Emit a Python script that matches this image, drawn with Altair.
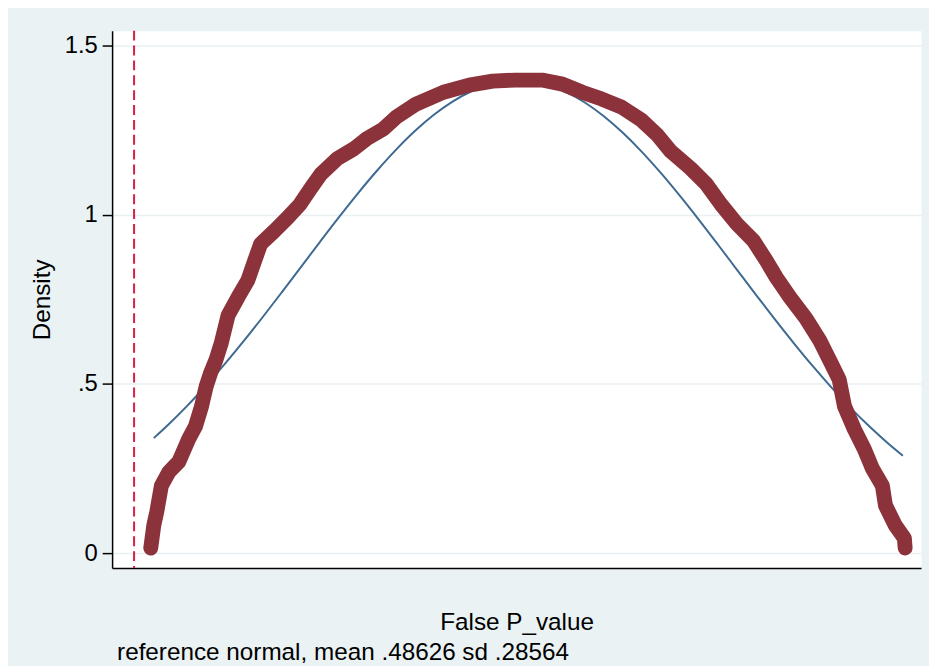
import altair as alt
import pandas as pd

# Kernel density of False P_value
kd_x = [0.002, 0.006, 0.010, 0.016, 0.026, 0.039, 0.052, 0.061, 0.069, 0.075,
        0.081, 0.088, 0.095, 0.104, 0.117, 0.130, 0.139, 0.147, 0.165, 0.182,
        0.199, 0.213, 0.226, 0.248, 0.270, 0.287, 0.309, 0.326, 0.352, 0.388,
        0.422, 0.453, 0.483, 0.518, 0.545, 0.571, 0.597, 0.623, 0.649, 0.670,
        0.688, 0.714, 0.735, 0.754, 0.775, 0.797, 0.814, 0.827, 0.845, 0.866,
        0.884, 0.899, 0.910, 0.917, 0.930, 0.943, 0.954, 0.967, 0.971, 0.984,
        0.996, 0.997]
kd_y = [0.015, 0.082, 0.123, 0.199, 0.240, 0.270, 0.337, 0.375, 0.434, 0.492,
        0.533, 0.571, 0.621, 0.703, 0.756, 0.806, 0.864, 0.914, 0.952, 0.990,
        1.031, 1.078, 1.119, 1.166, 1.195, 1.225, 1.254, 1.289, 1.327, 1.362,
        1.383, 1.395, 1.398, 1.398, 1.386, 1.362, 1.342, 1.318, 1.280, 1.236,
        1.187, 1.137, 1.090, 1.031, 0.973, 0.923, 0.864, 0.815, 0.756, 0.694,
        0.630, 0.563, 0.513, 0.434, 0.366, 0.308, 0.249, 0.199, 0.141, 0.082,
        0.044, 0.015]

# Reference normal curve (mean .48626, sd .28564)
norm_x = [0.006, 0.025, 0.05, 0.075, 0.10, 0.125, 0.15, 0.175, 0.20, 0.225,
          0.25, 0.275, 0.30, 0.325, 0.35, 0.375, 0.40, 0.425, 0.45, 0.475,
          0.486, 0.50, 0.525, 0.55, 0.575, 0.60, 0.625, 0.65, 0.675, 0.70,
          0.725, 0.75, 0.775, 0.80, 0.825, 0.85, 0.875, 0.90, 0.925, 0.95,
          0.975, 0.994]
norm_y = [0.3398, 0.3792, 0.4351, 0.4954, 0.5598, 0.6277, 0.6985, 0.7714, 0.8453, 0.9193,
          0.9921, 1.0625, 1.1292, 1.1909, 1.2465, 1.2946, 1.3344, 1.3649, 1.3855, 1.3956,
          1.3967, 1.3951, 1.3839, 1.3623, 1.3309, 1.2902, 1.2413, 1.1851, 1.1228, 1.0556,
          0.9850, 0.9120, 0.8380, 0.7641, 0.6914, 0.6209, 0.5532, 0.4892, 0.4293, 0.3739,
          0.3231, 0.2877]

xline = [-0.02]
y_ticks = [0, 0.5, 1, 1.5]
x_title = "False P_value"
y_title = "Density"
note = "reference normal, mean .48626 sd .28564"

FONT = "Liberation Sans"
W, H = 816, 542

xscale = alt.Scale(domain=[-0.049, 1.018], nice=False, zero=False)
yscale = alt.Scale(domain=[-0.044, 1.544], nice=False, zero=False)

xaxis = alt.Axis(title=x_title, ticks=False, labels=False, grid=False,
                 domainColor="black", domainWidth=1.5,
                 titleFont=FONT, titleFontSize=24.5, titleFontWeight="normal",
                 titleColor="black", titleY=62, titleBaseline="alphabetic")
yaxis = alt.Axis(title=y_title, values=y_ticks, format="~g",
                 labelExpr="datum.value == 0.5 ? '.5' : datum.label",
                 labelFont=FONT, labelFontSize=24, labelColor="black",
                 labelPadding=5, tickSize=10, tickColor="black", tickWidth=1.5,
                 domainColor="black", domainWidth=1.5,
                 grid=True, gridColor="#e8f0f2", gridWidth=1.5,
                 titleFont=FONT, titleFontSize=24.5, titleFontWeight="normal",
                 titleColor="black", titleAngle=270, titleX=-63, titleY=H / 2,
                 titleAlign="center", titleBaseline="alphabetic")

X = alt.X("x:Q", scale=xscale, axis=xaxis)
Y = alt.Y("y:Q", scale=yscale, axis=yaxis)

kd_df = pd.DataFrame({"x": kd_x, "y": kd_y})
nm_df = pd.DataFrame({"x": norm_x, "y": norm_y})
xl_df = pd.DataFrame({"x": xline})

rule = alt.Chart(xl_df).mark_rule(color="#d71e46", strokeWidth=2,
                                  strokeDash=[10, 5]).encode(x=X)
normal = alt.Chart(nm_df).mark_line(color="#3e6a92", strokeWidth=2,
                                    interpolate="monotone").encode(x=X, y=Y)
kdens = alt.Chart(kd_df).mark_line(color="#8c323a", strokeWidth=15,
                                   strokeCap="round", strokeJoin="round").encode(x=X, y=Y)
note_layer = alt.Chart(pd.DataFrame({"t": [note]})).mark_text(
    align="left", baseline="alphabetic", font=FONT, fontSize=24.5, color="black"
).encode(x=alt.value(5), y=alt.value(635), text="t:N")

chart = alt.layer(rule, normal, kdens, note_layer).properties(
    width=W, height=H,
    autosize=alt.AutoSizeParams(type="none"),
    padding={"left": 105, "top": 20, "right": 8, "bottom": 96},
    background="#eaf2f3",
).configure_view(fill="white", stroke="transparent")

chart.save("out.html", embed_options={"renderer": "svg", "actions": False})
